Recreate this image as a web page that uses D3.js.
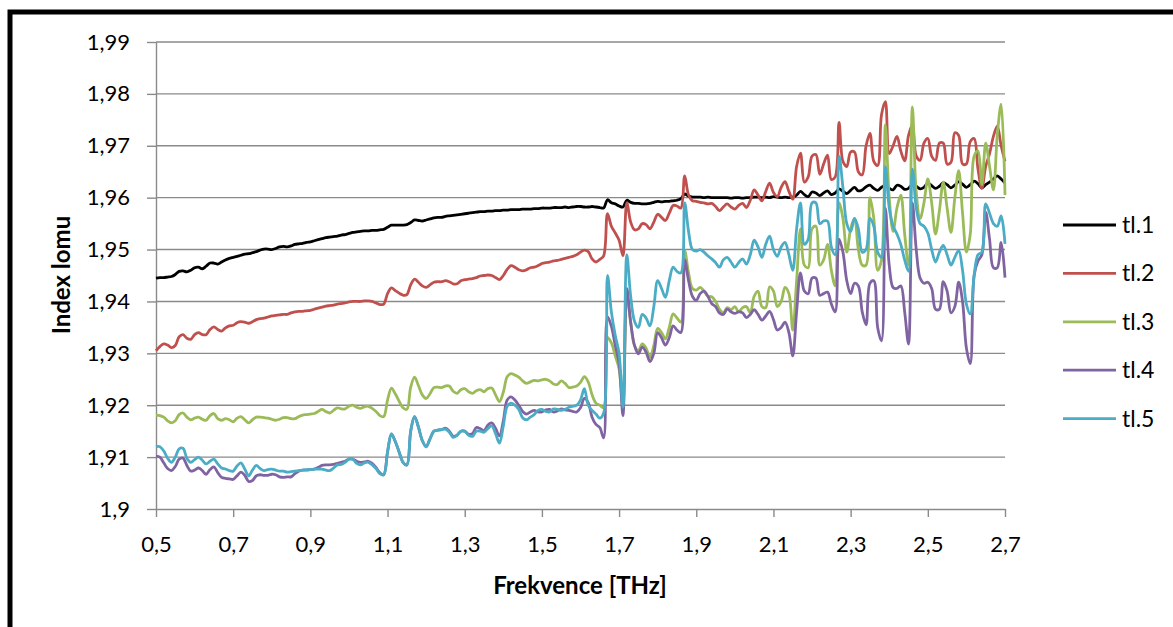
<!DOCTYPE html>
<html><head><meta charset="utf-8">
<script src="https://cdn.jsdelivr.net/npm/d3@7"></script>
<style>
html,body{margin:0;padding:0;background:#fff;}
svg{display:block;font-family:Lato,"Open Sans",sans-serif;}
</style></head>
<body><svg id="chart" width="1173" height="627"></svg>
<script>
const freqs = [
0.50,0.51,0.52,0.53,0.54,0.55,0.56,0.57,0.58,0.59,
0.60,0.61,0.62,0.63,0.64,0.65,0.66,0.67,0.68,0.69,
0.70,0.71,0.72,0.73,0.74,0.75,0.76,0.77,0.78,0.79,
0.80,0.81,0.82,0.83,0.84,0.85,0.86,0.87,0.88,0.89,
0.90,0.91,0.92,0.93,0.94,0.95,0.96,0.97,0.98,0.99,
1.00,1.01,1.02,1.03,1.04,1.05,1.06,1.07,1.08,1.09,
1.10,1.11,1.12,1.13,1.14,1.15,1.16,1.17,1.18,1.19,
1.20,1.21,1.22,1.23,1.24,1.25,1.26,1.27,1.28,1.29,
1.30,1.31,1.32,1.33,1.34,1.35,1.36,1.37,1.38,1.39,
1.40,1.41,1.42,1.43,1.44,1.45,1.46,1.47,1.48,1.49,
1.50,1.51,1.52,1.53,1.54,1.55,1.56,1.57,1.58,1.59,
1.60,1.61,1.62,1.63,1.64,1.65,1.66,1.67,1.68,1.69,
1.70,1.71,1.72,1.73,1.74,1.75,1.76,1.77,1.78,1.79,
1.80,1.81,1.82,1.83,1.84,1.85,1.86,1.87,1.88,1.89,
1.90,1.91,1.92,1.93,1.94,1.95,1.96,1.97,1.98,1.99,
2.00,2.01,2.02,2.03,2.04,2.05,2.06,2.07,2.08,2.09,
2.10,2.11,2.12,2.13,2.14,2.15,2.16,2.17,2.18,2.19,
2.20,2.21,2.22,2.23,2.24,2.25,2.26,2.27,2.28,2.29,
2.30,2.31,2.32,2.33,2.34,2.35,2.36,2.37,2.38,2.39,
2.40,2.41,2.42,2.43,2.44,2.45,2.46,2.47,2.48,2.49,
2.50,2.51,2.52,2.53,2.54,2.55,2.56,2.57,2.58,2.59,
2.60,2.61,2.62,2.63,2.64,2.65,2.66,2.67,2.68,2.69,
2.70];

const tl1 = [
1.9445,1.9446,1.9446,1.9447,1.9448,1.9452,1.9458,1.9459,1.9457,1.9460,
1.9465,1.9466,1.9463,1.9468,1.9474,1.9474,1.9472,1.9476,1.9480,1.9483,
1.9485,1.9487,1.9489,1.9491,1.9492,1.9494,1.9496,1.9499,1.9501,1.9501,
1.9500,1.9502,1.9505,1.9506,1.9505,1.9507,1.9510,1.9511,1.9512,1.9514,
1.9515,1.9517,1.9519,1.9521,1.9523,1.9524,1.9525,1.9526,1.9528,1.9529,
1.9531,1.9533,1.9534,1.9535,1.9536,1.9536,1.9537,1.9537,1.9538,1.9539,
1.9543,1.9547,1.9547,1.9547,1.9547,1.9548,1.9552,1.9557,1.9556,1.9555,
1.9557,1.9559,1.9561,1.9562,1.9562,1.9564,1.9565,1.9566,1.9567,1.9568,
1.9569,1.9570,1.9571,1.9572,1.9573,1.9573,1.9574,1.9574,1.9575,1.9575,
1.9576,1.9576,1.9577,1.9577,1.9577,1.9578,1.9578,1.9578,1.9579,1.9579,
1.9580,1.9580,1.9580,1.9581,1.9581,1.9581,1.9582,1.9581,1.9582,1.9583,
1.9583,1.9582,1.9582,1.9583,1.9582,1.9581,1.9580,1.9596,1.9590,1.9588,
1.9584,1.9582,1.9595,1.9591,1.9589,1.9589,1.9588,1.9588,1.9589,1.9591,
1.9593,1.9592,1.9593,1.9593,1.9594,1.9595,1.9598,1.9607,1.9603,1.9601,
1.9601,1.9601,1.9600,1.9601,1.9600,1.9600,1.9600,1.9600,1.9600,1.9599,
1.9600,1.9600,1.9599,1.9600,1.9600,1.9601,1.9601,1.9600,1.9601,1.9600,
1.9602,1.9601,1.9600,1.9601,1.9600,1.9601,1.9605,1.9612,1.9606,1.9602,
1.9611,1.9609,1.9604,1.9609,1.9613,1.9606,1.9609,1.9617,1.9612,1.9608,
1.9614,1.9620,1.9613,1.9615,1.9621,1.9624,1.9618,1.9614,1.9620,1.9623,
1.9618,1.9615,1.9624,1.9622,1.9616,1.9618,1.9626,1.9622,1.9617,1.9620,
1.9628,1.9623,1.9618,1.9622,1.9629,1.9625,1.9619,1.9624,1.9631,1.9626,
1.9620,1.9625,1.9632,1.9627,1.9619,1.9625,1.9630,1.9636,1.9642,1.9636,
1.9628];

const tl2 = [
1.9305,1.9313,1.9318,1.9316,1.9311,1.9315,1.9332,1.9336,1.9329,1.9327,
1.9336,1.9340,1.9336,1.9336,1.9346,1.9351,1.9346,1.9343,1.9349,1.9353,
1.9354,1.9359,1.9361,1.9360,1.9358,1.9361,1.9365,1.9367,1.9368,1.9370,
1.9372,1.9373,1.9374,1.9375,1.9375,1.9378,1.9380,1.9381,1.9381,1.9382,
1.9383,1.9385,1.9387,1.9389,1.9391,1.9392,1.9393,1.9395,1.9396,1.9397,
1.9399,1.9400,1.9400,1.9400,1.9401,1.9401,1.9400,1.9397,1.9394,1.9395,
1.9415,1.9426,1.9421,1.9416,1.9412,1.9413,1.9432,1.9443,1.9437,1.9430,
1.9427,1.9432,1.9437,1.9438,1.9438,1.9440,1.9438,1.9434,1.9434,1.9440,
1.9442,1.9443,1.9444,1.9446,1.9449,1.9450,1.9451,1.9450,1.9446,1.9442,
1.9450,1.9462,1.9469,1.9466,1.9461,1.9459,1.9461,1.9465,1.9466,1.9469,
1.9473,1.9475,1.9476,1.9478,1.9479,1.9481,1.9483,1.9485,1.9487,1.9490,
1.9495,1.9499,1.9496,1.9482,1.9476,1.9481,1.9488,1.9569,1.9545,1.9532,
1.9518,1.9488,1.9590,1.9553,1.9538,1.9540,1.9550,1.9548,1.9540,1.9553,
1.9568,1.9562,1.9556,1.9570,1.9585,1.9584,1.9580,1.9642,1.9605,1.9594,
1.9593,1.9591,1.9590,1.9588,1.9589,1.9583,1.9575,1.9582,1.9588,1.9582,
1.9578,1.9585,1.9589,1.9581,1.9595,1.9615,1.9605,1.9594,1.9612,1.9628,
1.9610,1.9602,1.9620,1.9631,1.9612,1.9597,1.9660,1.9686,1.9630,1.9640,
1.9680,1.9683,1.9645,1.9665,1.9682,1.9635,1.9640,1.9745,1.9670,1.9660,
1.9688,1.9688,1.9650,1.9644,1.9700,1.9724,1.9670,1.9662,1.9760,1.9785,
1.9685,1.9700,1.9718,1.9690,1.9671,1.9720,1.9740,1.9680,1.9672,1.9705,
1.9714,1.9680,1.9672,1.9705,1.9705,1.9665,1.9668,1.9725,1.9720,1.9665,
1.9665,1.9708,1.9714,1.9655,1.9618,1.9660,1.9685,1.9718,1.9738,1.9700,
1.9670];

const tl3 = [
1.9181,1.9180,1.9177,1.9170,1.9166,1.9170,1.9182,1.9185,1.9177,1.9172,
1.9175,1.9177,1.9173,1.9171,1.9180,1.9184,1.9174,1.9171,1.9174,1.9172,
1.9168,1.9175,1.9178,1.9172,1.9166,1.9172,1.9177,1.9177,1.9176,1.9175,
1.9173,1.9171,1.9173,1.9176,1.9176,1.9174,1.9174,1.9178,1.9181,1.9182,
1.9183,1.9184,1.9188,1.9192,1.9188,1.9185,1.9190,1.9195,1.9193,1.9193,
1.9198,1.9200,1.9196,1.9194,1.9197,1.9198,1.9194,1.9188,1.9180,1.9178,
1.9210,1.9233,1.9222,1.9208,1.9195,1.9192,1.9235,1.9254,1.9238,1.9220,
1.9213,1.9222,1.9234,1.9235,1.9234,1.9237,1.9237,1.9227,1.9223,1.9230,
1.9232,1.9226,1.9223,1.9228,1.9230,1.9226,1.9232,1.9233,1.9220,1.9207,
1.9225,1.9255,1.9261,1.9258,1.9254,1.9247,1.9242,1.9245,1.9248,1.9247,
1.9249,1.9250,1.9247,1.9241,1.9240,1.9247,1.9242,1.9234,1.9235,1.9237,
1.9244,1.9255,1.9245,1.9220,1.9204,1.9200,1.9195,1.9330,1.9320,1.9295,
1.9270,1.9196,1.9410,1.9360,1.9315,1.9305,1.9318,1.9310,1.9292,1.9315,
1.9348,1.9340,1.9328,1.9350,1.9376,1.9368,1.9360,1.9498,1.9455,1.9425,
1.9422,1.9427,1.9420,1.9410,1.9409,1.9400,1.9385,1.9378,1.9388,1.9384,
1.9390,1.9380,1.9388,1.9390,1.9378,1.9410,1.9420,1.9390,1.9388,1.9428,
1.9420,1.9390,1.9400,1.9427,1.9415,1.9345,1.9440,1.9540,1.9470,1.9465,
1.9540,1.9545,1.9470,1.9480,1.9510,1.9460,1.9430,1.9590,1.9560,1.9495,
1.9540,1.9560,1.9500,1.9470,1.9470,1.9600,1.9560,1.9460,1.9480,1.9740,
1.9600,1.9535,1.9580,1.9605,1.9530,1.9470,1.9775,1.9610,1.9560,1.9590,
1.9636,1.9590,1.9530,1.9575,1.9630,1.9580,1.9533,1.9600,1.9652,1.9570,
1.9495,1.9530,1.9680,1.9690,1.9625,1.9705,1.9660,1.9615,1.9720,1.9780,
1.9605];

const tl4 = [
1.9102,1.9100,1.9089,1.9078,1.9074,1.9082,1.9096,1.9098,1.9084,1.9073,
1.9075,1.9079,1.9074,1.9067,1.9076,1.9081,1.9070,1.9061,1.9059,1.9058,
1.9057,1.9064,1.9071,1.9065,1.9053,1.9055,1.9064,1.9066,1.9065,1.9065,
1.9067,1.9066,1.9062,1.9061,1.9062,1.9062,1.9068,1.9073,1.9075,1.9075,
1.9076,1.9077,1.9080,1.9084,1.9085,1.9085,1.9086,1.9088,1.9090,1.9092,
1.9096,1.9096,1.9092,1.9090,1.9091,1.9092,1.9088,1.9080,1.9070,1.9066,
1.9110,1.9144,1.9130,1.9110,1.9090,1.9085,1.9150,1.9178,1.9158,1.9132,
1.9120,1.9135,1.9150,1.9152,1.9153,1.9156,1.9150,1.9140,1.9142,1.9150,
1.9150,1.9144,1.9145,1.9157,1.9155,1.9151,1.9162,1.9166,1.9155,1.9141,
1.9170,1.9210,1.9216,1.9210,1.9200,1.9188,1.9183,1.9187,1.9190,1.9187,
1.9187,1.9191,1.9192,1.9187,1.9189,1.9193,1.9191,1.9190,1.9188,1.9187,
1.9195,1.9213,1.9205,1.9177,1.9163,1.9157,1.9137,1.9370,1.9352,1.9315,
1.9280,1.9180,1.9425,1.9360,1.9315,1.9299,1.9312,1.9302,1.9284,1.9300,
1.9340,1.9330,1.9316,1.9330,1.9353,1.9345,1.9340,1.9480,1.9440,1.9410,
1.9402,1.9415,1.9420,1.9410,1.9396,1.9390,1.9378,1.9375,1.9385,1.9380,
1.9377,1.9380,1.9378,1.9369,1.9375,1.9384,1.9375,1.9364,1.9372,1.9381,
1.9365,1.9345,1.9350,1.9360,1.9340,1.9295,1.9380,1.9455,1.9420,1.9415,
1.9445,1.9445,1.9412,1.9415,1.9418,1.9395,1.9380,1.9520,1.9495,1.9440,
1.9415,1.9435,1.9430,1.9380,1.9355,1.9435,1.9440,1.9350,1.9324,1.9580,
1.9470,1.9427,1.9425,1.9430,1.9380,1.9318,1.9590,1.9500,1.9445,1.9435,
1.9437,1.9425,1.9385,1.9385,1.9438,1.9420,1.9378,1.9390,1.9437,1.9400,
1.9310,1.9280,1.9450,1.9478,1.9490,1.9572,1.9520,1.9465,1.9465,1.9514,
1.9446];

const tl5 = [
1.9120,1.9120,1.9112,1.9098,1.9090,1.9100,1.9116,1.9117,1.9098,1.9090,
1.9095,1.9100,1.9094,1.9087,1.9092,1.9096,1.9087,1.9079,1.9077,1.9074,
1.9073,1.9083,1.9089,1.9077,1.9064,1.9075,1.9084,1.9078,1.9074,1.9076,
1.9077,1.9075,1.9073,1.9073,1.9071,1.9072,1.9073,1.9074,1.9075,1.9076,
1.9076,1.9077,1.9077,1.9077,1.9075,1.9074,1.9079,1.9085,1.9086,1.9090,
1.9096,1.9096,1.9088,1.9085,1.9089,1.9090,1.9085,1.9078,1.9068,1.9066,
1.9110,1.9145,1.9130,1.9110,1.9090,1.9085,1.9150,1.9178,1.9158,1.9132,
1.9120,1.9135,1.9150,1.9152,1.9153,1.9154,1.9148,1.9138,1.9142,1.9150,
1.9150,1.9142,1.9140,1.9150,1.9150,1.9148,1.9155,1.9160,1.9145,1.9127,
1.9160,1.9198,1.9204,1.9200,1.9192,1.9176,1.9172,1.9177,1.9182,1.9190,
1.9192,1.9188,1.9187,1.9193,1.9192,1.9190,1.9192,1.9196,1.9198,1.9200,
1.9210,1.9232,1.9200,1.9190,1.9183,1.9175,1.9185,1.9450,1.9380,1.9335,
1.9300,1.9196,1.9490,1.9410,1.9362,1.9350,1.9375,1.9368,1.9353,1.9390,
1.9440,1.9425,1.9408,1.9440,1.9466,1.9458,1.9455,1.9590,1.9535,1.9500,
1.9497,1.9500,1.9495,1.9488,1.9482,1.9475,1.9466,1.9480,1.9485,1.9476,
1.9466,1.9475,1.9482,1.9472,1.9490,1.9518,1.9505,1.9485,1.9510,1.9526,
1.9500,1.9487,1.9505,1.9514,1.9490,1.9460,1.9540,1.9590,1.9510,1.9520,
1.9590,1.9590,1.9550,1.9555,1.9555,1.9505,1.9490,1.9680,1.9620,1.9550,
1.9535,1.9560,1.9540,1.9495,1.9500,1.9560,1.9545,1.9495,1.9485,1.9660,
1.9580,1.9545,1.9530,1.9510,1.9480,1.9458,1.9655,1.9580,1.9550,1.9545,
1.9532,1.9500,1.9476,1.9495,1.9508,1.9490,1.9470,1.9485,1.9498,1.9460,
1.9395,1.9376,1.9450,1.9490,1.9495,1.9588,1.9570,1.9550,1.9545,1.9565,
1.9511];

const seriesNames = ["tl.1","tl.2","tl.3","tl.4","tl.5"];
const seriesColors = ["#000000","#C0504D","#9BBB59","#8064A2","#4BACC6"];
const yTicks = [1.90,1.91,1.92,1.93,1.94,1.95,1.96,1.97,1.98,1.99];
const xTicks = [0.5,0.7,0.9,1.1,1.3,1.5,1.7,1.9,2.1,2.3,2.5,2.7];
const xTitle = "Frekvence [THz]";
const yTitle = "Index lomu";

const allSeries = [tl1, tl2, tl3, tl4, tl5];
const svg = d3.select("#chart");
const gridColor = "#8a8a8a";

const x = d3.scaleLinear().domain([0.5, 2.7]).range([156, 1005]);
const y = d3.scaleLinear().domain([1.90, 1.99]).range([509, 42]);
const fmt = d3.formatLocale({decimal: ",", thousands: " ", grouping: [3], currency: ["", ""]}).format(".3~g");

// outer frame
svg.append("path").attr("d", "M10,640V12H1190")
  .attr("fill", "none").attr("stroke", "#000").attr("stroke-width", 5);

// horizontal gridlines
svg.append("g").selectAll("line").data(yTicks.slice(1)).join("line")
  .attr("x1", 156).attr("x2", 1005)
  .attr("y1", d => y(d)).attr("y2", d => y(d))
  .attr("stroke", gridColor).attr("stroke-width", 1.4);

// axes
const yAxisG = svg.append("g").attr("transform", "translate(156,0)")
  .call(d3.axisLeft(y).tickValues(yTicks).tickFormat(fmt).tickSizeInner(9).tickSizeOuter(0).tickPadding(17));
const xAxisG = svg.append("g").attr("transform", "translate(0,509)")
  .call(d3.axisBottom(x).tickValues(xTicks).tickFormat(fmt).tickSizeInner(8).tickSizeOuter(0).tickPadding(19));
[yAxisG, xAxisG].forEach(g => {
  g.select(".domain").attr("stroke", gridColor).attr("stroke-width", 1.4);
  g.selectAll(".tick line").attr("stroke", gridColor).attr("stroke-width", 1.4);
  g.selectAll(".tick text").attr("fill", "#000").style("font-size", "22px").style("font-family", "Lato");
});

// series lines
const line = d3.line()
  .x((d, i) => x(freqs[i]))
  .y(d => y(d))
  .curve(d3.curveCatmullRom.alpha(0.5));
svg.append("g").selectAll("path").data(allSeries).join("path")
  .attr("d", d => line(d))
  .attr("fill", "none")
  .attr("stroke", (d, i) => seriesColors[i])
  .attr("stroke-width", 2.8)
  .attr("stroke-linejoin", "round");

// axis titles
svg.append("text").attr("x", 580).attr("y", 594)
  .attr("text-anchor", "middle").style("font-size", "24px").style("font-weight", "bold")
  .text(xTitle);
svg.append("text").attr("transform", "translate(70,275) rotate(-90)")
  .attr("text-anchor", "middle").style("font-size", "24px").style("font-weight", "bold")
  .text(yTitle);

// legend
const leg = svg.append("g").selectAll("g").data(seriesNames).join("g")
  .attr("transform", (d, i) => `translate(1063,${225 + i * 48.4})`);
leg.append("line").attr("x1", 0).attr("x2", 53).attr("y1", 0).attr("y2", 0)
  .attr("stroke", (d, i) => seriesColors[i]).attr("stroke-width", 2.8);
leg.append("text").attr("x", 59).attr("dy", "0.35em")
  .style("font-size", "23px").text(d => d);
</script>
</body></html>
